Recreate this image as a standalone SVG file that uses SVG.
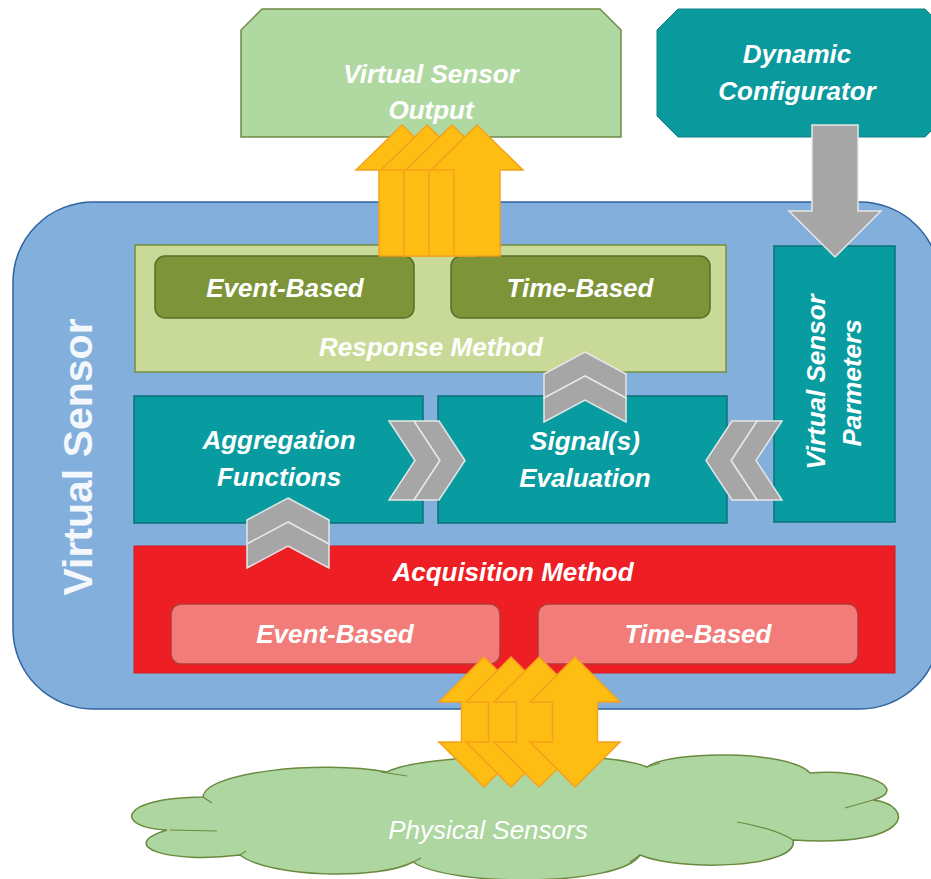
<svg xmlns="http://www.w3.org/2000/svg" xmlns:xlink="http://www.w3.org/1999/xlink" width="931" height="879" viewBox="0 0 931 879">
<style>
.t{font-family:"Liberation Sans",Arial,sans-serif;font-style:italic;font-weight:bold;fill:#ffffff;text-anchor:middle;font-size:26px}
.teal{fill:#089ca1;stroke:#0b7075;stroke-width:1.5}
.olive{fill:#7d9439;stroke:#5a6e26;stroke-width:1.5}
.pink{fill:#f27c79;stroke:#b53a36;stroke-width:1.5}
.yel{fill:#fdbd13;stroke:#f6a01c;stroke-width:1.5}
.gry{fill:#a6a6a6;stroke:#e6e6e6;stroke-width:1.5}
</style>
<defs>
<path id="up" d="M0 125 L46 170 L23 170 L23 256 L-23 256 L-23 170 L-46 170Z"/>
<path id="dbl" d="M0 657 L45 702 L22.5 702 L22.5 742 L45 742 L0 787 L-45 742 L-22.5 742 L-22.5 702 L-45 702Z"/>
<g id="chevU">
<path d="M0 0 L41 22 L41 46 L0 24 L-41 46 L-41 22Z"/>
<path d="M0 24 L41 46 L41 70 L0 48 L-41 70 L-41 46Z"/>
</g>
<g id="chevR">
<path d="M0 0 L25 0 L51 39.5 L25 79 L0 79 L26 39.5Z"/>
<path d="M25 0 L50 0 L76 39.5 L50 79 L25 79 L51 39.5Z"/>
</g>
</defs>

<g id="output">
<path d="M262 9 L600 9 L621 30 L621 137 L241 137 L241 30Z" fill="#b0d8a1" stroke="#6f8b47" stroke-width="1.5"/>
<text class="t" x="431" y="83">Virtual Sensor</text>
<text class="t" x="431" y="119">Output</text>
</g>

<g id="configurator">
<path d="M678 9 L925 9 L946 30 L946 116 L925 137 L678 137 L657 116 L657 30Z" fill="#0a9a9e" stroke="#0b8185" stroke-width="1"/>
<text class="t" x="797" y="63">Dynamic</text>
<text class="t" x="797" y="100">Configurator</text>
</g>

<g id="virtual-sensor">
<rect x="13" y="202" width="927" height="507" rx="80" ry="80" fill="#83afdc" stroke="#2f63a0" stroke-width="1.5"/>
<text transform="translate(92,457) rotate(-90)" text-anchor="middle" font-family="'Liberation Sans',Arial,sans-serif" font-weight="bold" font-size="41" fill="#f4f8fc">Virtual Sensor</text>
</g>

<g id="response-method">
<rect x="135" y="245" width="591" height="127" fill="#c9da98" stroke="#748f3f" stroke-width="1.5"/>
<text class="t" x="431" y="356" fill="#f6f8ea">Response Method</text>
</g>
<g id="response-event">
<rect class="olive" x="155" y="256" width="259" height="62" rx="10"/>
<text class="t" x="285" y="297">Event-Based</text>
</g>
<g id="response-time">
<rect class="olive" x="451" y="256" width="259" height="62" rx="10"/>
<text class="t" x="580" y="297">Time-Based</text>
</g>

<g id="aggregation">
<rect class="teal" x="134" y="396" width="289" height="127"/>
<text class="t" x="279" y="449">Aggregation</text>
<text class="t" x="279" y="486">Functions</text>
</g>
<g id="evaluation">
<rect class="teal" x="438" y="396" width="289" height="127"/>
<text class="t" x="585" y="450">Signal(s)</text>
<text class="t" x="585" y="487">Evaluation</text>
</g>
<g id="parameters">
<rect class="teal" x="774" y="246" width="121" height="276"/>
<text class="t" transform="translate(825,382) rotate(-90)">Virtual Sensor</text>
<text class="t" transform="translate(861,383) rotate(-90)">Parmeters</text>
</g>

<g id="acquisition-method">
<rect x="134" y="546" width="761" height="127" fill="#ed1f24" stroke="#d41a20" stroke-width="1"/>
<text class="t" x="513" y="581" font-size="27">Acquisition Method</text>
</g>
<g id="acquisition-event">
<rect class="pink" x="171" y="604" width="329" height="60" rx="10"/>
<text class="t" x="335" y="643">Event-Based</text>
</g>
<g id="acquisition-time">
<rect class="pink" x="538" y="604" width="320" height="60" rx="10"/>
<text class="t" x="698" y="643">Time-Based</text>
</g>

<g id="physical-sensors">
<path d="M167 830 C115 828 115 798 203 797 C205 772 320 760 387 772 C420 754 600 748 647 767 C670 750 790 750 810 773 C868 768 910 790 873 800 C915 805 915 848 793 840 C800 868 680 872 640 855 C620 887 450 887 413 862 C380 880 270 878 240 855 C168 864 115 846 167 830Z" fill="#aed6a0" stroke="#6b8a3f" stroke-width="1.5"/>
<path d="M170 830 L217 831 M203 797 L212 803 M381 772 L407 776 M647 767 L660 763 M845 808 L873 800 M737 822 C760 826 780 832 793 840 M640 855 L630 862 M413 862 L421 858 M240 855 L246 851" fill="none" stroke="#6b8a3f" stroke-width="1.2"/>
<text x="488" y="839" text-anchor="middle" font-family="'Liberation Sans',Arial,sans-serif" font-style="italic" font-size="26" fill="#ffffff">Physical Sensors</text>
</g>

<g id="connectors">
<g class="gry">
<use xlink:href="#chevU" href="#chevU" transform="translate(585,352)"/>
<use xlink:href="#chevU" href="#chevU" transform="translate(288,498)"/>
<use xlink:href="#chevR" href="#chevR" transform="translate(389,421)"/>
<use xlink:href="#chevR" href="#chevR" transform="translate(782,421) scale(-1,1)"/>
<path d="M812 125 L858 125 L858 211 L881 211 L835 257 L789 211 L812 211Z"/>
</g>
<g class="yel">
<use xlink:href="#up" href="#up" x="402"/>
<use xlink:href="#up" href="#up" x="427"/>
<use xlink:href="#up" href="#up" x="452"/>
<use xlink:href="#up" href="#up" x="477"/>
<use xlink:href="#dbl" href="#dbl" x="484"/>
<use xlink:href="#dbl" href="#dbl" x="511"/>
<use xlink:href="#dbl" href="#dbl" x="539"/>
<use xlink:href="#dbl" href="#dbl" x="575"/>
</g>
</g>
</svg>
